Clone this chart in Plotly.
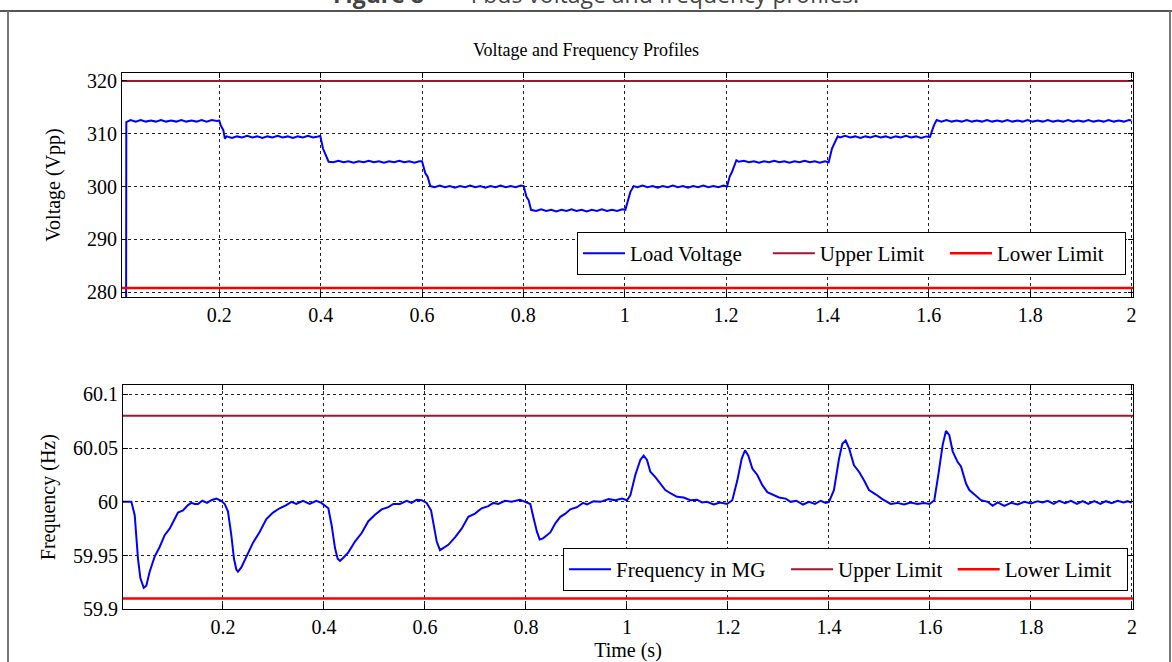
import plotly.graph_objects as go

# ---------------- data ----------------
# Load voltage (Vpp) vs time (s)
volt_t = [0.016, 0.0165, 0.025, 0.035, 0.045, 0.055, 0.065, 0.075, 0.085, 0.095, 0.105, 0.115, 0.125,
          0.135, 0.145, 0.155, 0.165, 0.175, 0.185, 0.195, 0.2,
          0.2027, 0.2079, 0.211, 0.2145,
          0.225, 0.235, 0.245, 0.255, 0.265, 0.275, 0.285, 0.295, 0.305, 0.315, 0.325, 0.335, 0.345,
          0.355, 0.365, 0.375, 0.385, 0.395, 0.3993,
          0.4046, 0.409, 0.4157,
          0.425, 0.435, 0.445, 0.455, 0.465, 0.475, 0.485, 0.495, 0.505, 0.515, 0.525, 0.535, 0.545,
          0.555, 0.565, 0.575, 0.585, 0.595, 0.6,
          0.6066, 0.611, 0.6163,
          0.625, 0.635, 0.645, 0.655, 0.665, 0.675, 0.685, 0.695, 0.705, 0.715, 0.725, 0.735, 0.745,
          0.755, 0.765, 0.775, 0.785, 0.795, 0.8006,
          0.8059, 0.8105, 0.8151,
          0.825, 0.835, 0.845, 0.855, 0.865, 0.875, 0.885, 0.895, 0.905, 0.915, 0.925, 0.935, 0.945,
          0.955, 0.965, 0.975, 0.985, 0.995, 1.0013,
          1.006, 1.0112, 1.0178,
          1.025, 1.035, 1.045, 1.055, 1.065, 1.075, 1.085, 1.095, 1.105, 1.115, 1.125, 1.135, 1.145,
          1.155, 1.165, 1.175, 1.185, 1.195, 1.2019,
          1.2072, 1.2118, 1.2204,
          1.225, 1.235, 1.245, 1.255, 1.265, 1.275, 1.285, 1.295, 1.305, 1.315, 1.325, 1.335, 1.345,
          1.355, 1.365, 1.375, 1.385, 1.395, 1.4025,
          1.409, 1.4137, 1.4203,
          1.425, 1.435, 1.445, 1.455, 1.465, 1.475, 1.485, 1.495, 1.505, 1.515, 1.525, 1.535, 1.545,
          1.555, 1.565, 1.575, 1.585, 1.595, 1.6023,
          1.607, 1.6102, 1.6155,
          1.625, 1.635, 1.645, 1.655, 1.665, 1.675, 1.685, 1.695, 1.705, 1.715, 1.725, 1.735, 1.745,
          1.755, 1.765, 1.775, 1.785, 1.795, 1.805, 1.815, 1.825, 1.835, 1.845, 1.855, 1.865, 1.875,
          1.885, 1.895, 1.905, 1.915, 1.925, 1.935, 1.945, 1.955, 1.965, 1.975, 1.985, 1.995, 2.0]
volt_v = [270.0, 312.2, 312.6, 312.3, 312.6, 312.3, 312.5, 312.3, 312.6, 312.3, 312.5, 312.3, 312.6,
          312.3, 312.5, 312.3, 312.6, 312.3, 312.6, 312.4, 312.5,
          311.6, 310.7, 309.1, 309.5,
          309.2, 309.5, 309.3, 309.6, 309.3, 309.5, 309.2, 309.5, 309.3, 309.6, 309.3, 309.5, 309.2,
          309.5, 309.3, 309.6, 309.3, 309.5, 309.6,
          307.2, 306.3, 304.7,
          304.6, 304.9, 304.6, 304.8, 304.5, 304.8, 304.6, 304.9, 304.6, 304.8, 304.5, 304.8, 304.6,
          304.9, 304.6, 304.8, 304.5, 304.8, 304.8,
          302.5, 301.9, 300.1,
          299.9, 300.2, 299.9, 300.1, 299.8, 300.1, 299.9, 300.2, 299.9, 300.1, 299.8, 300.1, 299.9,
          300.2, 299.9, 300.1, 299.9, 300.2, 300.1,
          298.1, 297.4, 295.6,
          295.4, 295.7, 295.4, 295.6, 295.3, 295.6, 295.4, 295.7, 295.4, 295.6, 295.3, 295.6, 295.4,
          295.7, 295.4, 295.6, 295.4, 295.7, 295.6,
          297.4, 299.0, 300.1,
          299.9, 300.2, 299.9, 300.1, 299.8, 300.1, 299.9, 300.2, 299.9, 300.1, 299.8, 300.1, 299.9,
          300.2, 299.9, 300.1, 299.9, 300.2, 300.0,
          301.9, 302.8, 305.0,
          304.7, 304.9, 304.6, 304.8, 304.5, 304.8, 304.6, 304.9, 304.6, 304.8, 304.5, 304.8, 304.6,
          304.9, 304.6, 304.8, 304.5, 304.8, 304.6,
          307.2, 308.2, 309.5,
          309.3, 309.6, 309.3, 309.5, 309.2, 309.5, 309.3, 309.6, 309.3, 309.5, 309.2, 309.5, 309.3,
          309.6, 309.3, 309.5, 309.2, 309.5, 309.4,
          311.0, 311.6, 312.6,
          312.3, 312.6, 312.3, 312.5, 312.3, 312.6, 312.3, 312.5, 312.3, 312.6, 312.3, 312.5, 312.3,
          312.6, 312.3, 312.5, 312.3, 312.6, 312.3, 312.5, 312.3, 312.6, 312.3, 312.5, 312.3, 312.6,
          312.3, 312.5, 312.3, 312.6, 312.3, 312.5, 312.3, 312.6, 312.3, 312.5, 312.3, 312.6, 312.5]

# Frequency in MG (Hz) vs time (s)
freq_t = [0.0, 0.0186, 0.0252, 0.0284, 0.0317, 0.0364, 0.043, 0.0482, 0.0548, 0.0647, 0.0746, 0.0845,
          0.0944, 0.101, 0.1109, 0.1208, 0.1307, 0.1373, 0.1439, 0.1506, 0.1591, 0.1684, 0.177, 0.1868,
          0.1967, 0.2034, 0.2099, 0.2165, 0.2218, 0.2264, 0.2297, 0.2363, 0.2462, 0.2595, 0.2726, 0.2859,
          0.299, 0.3122, 0.3254, 0.3353, 0.3452, 0.3584, 0.3716, 0.3848, 0.3947,
          0.4086, 0.4152, 0.4218, 0.4271, 0.4317, 0.4383, 0.4482, 0.4614, 0.4746, 0.4878, 0.501, 0.5142,
          0.5274, 0.5373, 0.5505, 0.5637, 0.5736, 0.5835, 0.5934, 0.6033, 0.612, 0.6186, 0.6232, 0.6297,
          0.6363, 0.6462, 0.6594, 0.6726, 0.6858, 0.699, 0.7122, 0.7254, 0.7353, 0.7452, 0.7584, 0.7716,
          0.7881, 0.798,
          0.8086, 0.8152, 0.8218, 0.8271, 0.8337, 0.8482, 0.8581, 0.868, 0.8779, 0.8878, 0.901, 0.9129,
          0.9208, 0.934, 0.9472, 0.9637, 0.9769, 0.9901, 1.0, 1.0066, 1.0165, 1.0264, 1.033, 1.0396,
          1.0462, 1.0561, 1.066, 1.0759, 1.0858, 1.099, 1.1122, 1.1254, 1.1386, 1.1485, 1.1584, 1.1716,
          1.1848, 1.198,
          1.2086, 1.2185, 1.2271, 1.2337, 1.2403, 1.2482, 1.2581, 1.268, 1.2779, 1.2911, 1.301, 1.3142,
          1.3241, 1.3353, 1.3485, 1.3604, 1.3723, 1.3835, 1.3934, 1.4, 1.4099, 1.4198, 1.4264, 1.433,
          1.4396, 1.4495, 1.4594, 1.4693, 1.4792, 1.4924, 1.5056, 1.5221, 1.5353, 1.5485, 1.5617, 1.5749,
          1.5881, 1.5993,
          1.6086, 1.6165, 1.6251, 1.6317, 1.6383, 1.6449, 1.6548, 1.6614, 1.6713, 1.6779, 1.6911, 1.701,
          1.7142, 1.7241, 1.734, 1.7472, 1.7604, 1.7736, 1.7868, 1.8, 1.8132, 1.8231, 1.833, 1.8449,
          1.8561, 1.8673, 1.8792, 1.8911, 1.9023, 1.9135, 1.9254, 1.9373, 1.9485, 1.9597, 1.9716, 1.9835,
          1.9914, 1.9993]
freq_v = [60.0, 60.0, 59.9876, 59.969, 59.947, 59.929, 59.92, 59.922, 59.935, 59.949, 59.958, 59.969,
          59.975, 59.981, 59.99, 59.992, 59.997, 59.999, 59.998, 59.998, 60.001, 59.999, 60.0015, 60.003,
          60.001, 59.998, 59.991, 59.969, 59.947, 59.937, 59.935, 59.939, 59.949, 59.962, 59.972, 59.984,
          59.99, 59.994, 59.997, 60.0, 59.998, 60.001, 59.998, 60.001, 59.999,
          59.994, 59.978, 59.957, 59.947, 59.945, 59.948, 59.953, 59.963, 59.971, 59.982, 59.988, 59.993,
          59.995, 59.998, 59.998, 60.001, 59.999, 60.002, 60.0015, 59.999, 59.992, 59.975, 59.963, 59.955,
          59.957, 59.96, 59.967, 59.975, 59.986, 59.989, 59.994, 59.996, 59.999, 59.998, 60.001, 60.0,
          60.002, 60.0,
          59.998, 59.9845, 59.972, 59.965, 59.966, 59.9715, 59.98, 59.986, 59.989, 59.993, 59.995, 59.999,
          59.9975, 60.0006, 60.0, 60.0025, 60.0015, 60.003, 60.0015, 60.006, 60.025, 60.039, 60.043, 60.039,
          60.028, 60.023, 60.017, 60.011, 60.008, 60.0047, 60.004, 60.0015, 60.002, 59.9994, 60.0, 59.9975,
          59.9994, 59.998,
          60.0015, 60.02, 60.04, 60.048, 60.043, 60.031, 60.025, 60.0155, 60.009, 60.006, 60.004, 60.003,
          60.0, 60.001, 59.9975, 60.0, 59.998, 60.001, 59.999, 60.0, 60.011, 60.04, 60.054, 60.057,
          60.05, 60.034, 60.028, 60.02, 60.011, 60.007, 60.0025, 59.998, 59.999, 59.9975, 59.9994, 59.998,
          59.999, 59.998,
          60.0015, 60.025, 60.053, 60.066, 60.062, 60.047, 60.037, 60.033, 60.017, 60.011, 60.006, 60.0015,
          60.0, 59.9963, 59.9994, 59.9963, 59.999, 59.9975, 60.0, 59.9984, 60.0006, 59.9994, 60.001, 59.998,
          60.001, 59.9988, 60.001, 59.998, 60.0006, 59.998, 60.0006, 59.998, 60.0006, 59.9988, 60.001, 59.9994,
          60.0006, 59.999]

limit_t = [0.0, 2.01]
volt_upper = [320.0, 320.0]
volt_lower = [280.8, 280.8]
freq_upper = [60.08, 60.08]
freq_lower = [59.91, 59.91]

x_ticks = [0.2, 0.4, 0.6, 0.8, 1.0, 1.2, 1.4, 1.6, 1.8, 2.0]
x_tick_text = ["0.2", "0.4", "0.6", "0.8", "1", "1.2", "1.4", "1.6", "1.8", "2"]
volt_ticks = [280, 290, 300, 310, 320]
freq_ticks = [59.9, 59.95, 60.0, 60.05, 60.1]
freq_tick_text = ["59.9", "59.95", "60", "60.05", "60.1"]

# ---------------- figure ----------------
W, H = 1172, 662
SERIF = "Liberation Serif"
BLUE = "#0000FF"
DARKRED = "#A2142F"
RED = "#FF0000"
NB = "\u00a0"

fig = go.Figure()

fig.add_trace(go.Scatter(x=volt_t, y=volt_v, mode="lines", name="Load Voltage" + NB * 4,
                         line=dict(color=BLUE, width=2), xaxis="x", yaxis="y", legend="legend"))
fig.add_trace(go.Scatter(x=limit_t, y=volt_upper, mode="lines", name="Upper Limit" + NB * 3,
                         line=dict(color=DARKRED, width=2), xaxis="x", yaxis="y", legend="legend"))
fig.add_trace(go.Scatter(x=limit_t, y=volt_lower, mode="lines", name="Lower Limit" + NB * 3,
                         line=dict(color=RED, width=2.5), xaxis="x", yaxis="y", legend="legend"))

fig.add_trace(go.Scatter(x=freq_t, y=freq_v, mode="lines", name="Frequency in MG" + NB * 3,
                         line=dict(color=BLUE, width=2), xaxis="x2", yaxis="y2", legend="legend2"))
fig.add_trace(go.Scatter(x=limit_t, y=freq_upper, mode="lines", name="Upper Limit" + NB * 1,
                         line=dict(color=DARKRED, width=2), xaxis="x2", yaxis="y2", legend="legend2"))
fig.add_trace(go.Scatter(x=limit_t, y=freq_lower, mode="lines", name="Lower Limit" + NB * 2,
                         line=dict(color=RED, width=2.5), xaxis="x2", yaxis="y2", legend="legend2"))

axis_common = dict(
    automargin=False,
    showline=True, linecolor="black", linewidth=1, mirror="allticks",
    ticks="inside", ticklen=5, tickcolor="black", tickwidth=1,
    showgrid=True, gridcolor="#222222", gridwidth=1, griddash="dot",
    zeroline=False, tickfont=dict(family=SERIF, size=20, color="black"),
)

def px_x(p):
    return p / W

def px_y(p):
    return 1 - p / H

legend_common = dict(
    orientation="h", xanchor="left", yanchor="top", bgcolor="white",
    bordercolor="black", borderwidth=1, font=dict(family=SERIF, size=21, color="black"),
    itemwidth=42, traceorder="normal",
)

fig.update_layout(
    width=W, height=H,
    margin=dict(l=0, r=0, t=0, b=0, autoexpand=False),
    paper_bgcolor="white", plot_bgcolor="white",
    showlegend=True,
    title=dict(text="Voltage and Frequency Profiles", x=0.5, xanchor="center",
               y=px_y(50), yanchor="middle", yref="container", automargin=False,
               font=dict(family=SERIF, size=18, color="black")),
    xaxis=dict(axis_common, domain=[px_x(122), px_x(1133)], range=[0.008, 2.003],
               tickvals=x_ticks, ticktext=x_tick_text, anchor="y"),
    yaxis=dict(axis_common, domain=[px_y(297), px_y(73)], range=[279.1, 321.5],
               tickvals=volt_ticks, anchor="x",
               title=dict(text="Voltage (Vpp)", standoff=21,
                          font=dict(family=SERIF, size=20, color="black"))),
    xaxis2=dict(axis_common, domain=[px_x(123), px_x(1133)], range=[0.002, 2.002],
                tickvals=x_ticks, ticktext=x_tick_text, anchor="y2",
                title=dict(text="Time (s)", standoff=5,
                           font=dict(family=SERIF, size=20, color="black"))),
    yaxis2=dict(axis_common, domain=[px_y(609.3), px_y(385)], range=[59.9, 60.1087],
                tickvals=freq_ticks, ticktext=freq_tick_text, anchor="x2",
                title=dict(text="Frequency (Hz)", standoff=11,
                           font=dict(family=SERIF, size=20, color="black"))),
    legend=dict(legend_common, x=px_x(577), y=px_y(232)),
    legend2=dict(legend_common, x=px_x(563), y=px_y(548)),
)

# outer figure frame and cut-off caption of the source page
fig.add_shape(type="line", xref="paper", yref="paper", x0=0, x1=1, y0=px_y(11), y1=px_y(11),
              line=dict(color="#555555", width=2))
fig.add_shape(type="line", xref="paper", yref="paper", x0=px_x(8), x1=px_x(8), y0=px_y(11), y1=0,
              line=dict(color="#777777", width=2))
fig.add_shape(type="line", xref="paper", yref="paper", x0=px_x(1170), x1=px_x(1170), y0=px_y(11), y1=0,
              line=dict(color="#777777", width=2))
fig.add_annotation(xref="paper", yref="paper", x=px_x(596), y=px_y(-6), xanchor="center", yanchor="middle",
                   showarrow=False,
                   text="<b>Figure 8</b>  \u2014  I bus voltage and frequency profiles.",
                   font=dict(family="Open Sans", size=23, color="#444444"))

fig.write_html(
    "out.html",
    config={"displayModeBar": False},
    post_script="document.body.style.margin='0';document.body.style.overflow='hidden';",
)
